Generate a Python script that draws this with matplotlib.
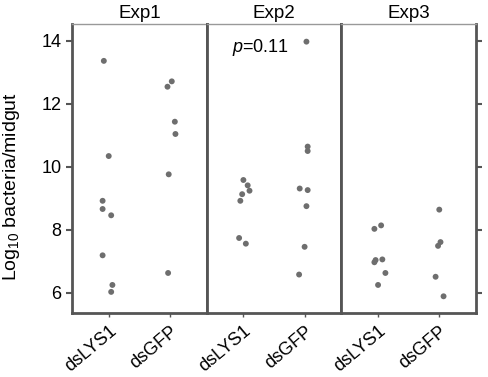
import matplotlib
matplotlib.use("Agg")
import matplotlib.pyplot as plt
from matplotlib.transforms import ScaledTranslation

plt.rcParams['font.family'] = ['Liberation Sans', 'DejaVu Sans']
plt.rcParams['mathtext.fontset'] = 'custom'
plt.rcParams['mathtext.rm'] = 'Liberation Sans'
plt.rcParams['mathtext.it'] = 'Liberation Sans:italic'

experiments = ["Exp1", "Exp2", "Exp3"]
groups = ["dsLYS1", "dsGFP"]

exp1_dsLYS1 = [13.36, 10.34, 8.92, 8.66, 8.46, 7.19, 6.25, 6.03]
exp1_dsGFP = [12.71, 12.54, 11.43, 11.04, 9.76, 6.63]
exp2_dsLYS1 = [9.58, 9.41, 9.24, 9.13, 8.92, 7.74, 7.56]
exp2_dsGFP = [13.97, 10.64, 10.50, 9.31, 9.26, 8.75, 7.46, 6.58]
exp3_dsLYS1 = [8.14, 8.03, 7.06, 7.04, 6.97, 6.63, 6.25]
exp3_dsGFP = [8.64, 7.61, 7.49, 6.51, 5.89]

# horizontal jitter offsets (category units)
jit1_dsLYS1 = [-0.08, 0.0, -0.1, -0.1, 0.04, -0.1, 0.06, 0.04]
jit1_dsGFP = [0.03, -0.04, 0.08, 0.09, -0.02, -0.03]
jit2_dsLYS1 = [0.0, 0.07, 0.1, -0.02, -0.05, -0.07, 0.04]
jit2_dsGFP = [0.03, 0.05, 0.05, -0.08, 0.05, 0.03, 0.0, -0.09]
jit3_dsLYS1 = [0.05, -0.06, 0.07, -0.04, -0.06, 0.12, 0.0]
jit3_dsGFP = [0.0, 0.02, -0.02, -0.06, 0.07]

data = [
    [(exp1_dsLYS1, jit1_dsLYS1), (exp1_dsGFP, jit1_dsGFP)],
    [(exp2_dsLYS1, jit2_dsLYS1), (exp2_dsGFP, jit2_dsGFP)],
    [(exp3_dsLYS1, jit3_dsLYS1), (exp3_dsGFP, jit3_dsGFP)],
]

yticks = [6, 8, 10, 12, 14]
p_text = r"$\it{p}$=0.11"

fig = plt.figure(figsize=(4.89, 3.77), dpi=100)
left, right = 72 / 489, 476 / 489
bottom, top = 1 - 313 / 377, 1 - 24 / 377
w = (right - left) / 3
spine_col = "#555555"
axes = []
for i, exp in enumerate(experiments):
    ax = fig.add_axes([left + i * w, bottom, w, top - bottom])
    axes.append(ax)
    for j, (vals, jit) in enumerate(data[i]):
        xs = [j + d for d in jit]
        ax.scatter(xs, vals, s=18, color="#6e6e6e", edgecolors="none", zorder=3)
    ax.set_xlim(-0.6, 1.6)
    ax.set_ylim(5.36, 14.53)
    ax.set_xticks(range(len(groups)))
    ax.set_xticklabels(groups, rotation=40, ha="right", va="top",
                       rotation_mode="anchor", fontsize=13)
    off = ScaledTranslation(9 / 100, -2 / 100, fig.dpi_scale_trans)
    for lab in ax.get_xticklabels():
        lab.set_transform(lab.get_transform() + off)
    ax.tick_params(axis="x", length=3, width=1, color=spine_col, pad=4)
    ax.set_yticks(yticks)
    for s in ["left", "right", "bottom"]:
        ax.spines[s].set_color(spine_col)
        ax.spines[s].set_linewidth(2)
    ax.spines["top"].set_color("#999999")
    ax.spines["top"].set_linewidth(1)
    ax.set_title(exp, fontsize=13.5, pad=4)
    if i == 0:
        ax.tick_params(axis="y", labelsize=13, length=4, width=1.5,
                       color=spine_col, left=True, right=False)
        ax.set_ylabel(r"Log$_{\mathregular{10}}$ bacteria/midgut", fontsize=14)
        ax.yaxis.set_label_coords(-0.37, 0.436)
    elif i == 2:
        ax.tick_params(axis="y", left=False, right=True, labelleft=False,
                       length=4, width=1.5, color=spine_col)
    else:
        ax.tick_params(axis="y", left=False, right=False, labelleft=False)

axes[1].text(0.28, 13.77, p_text, fontsize=13, ha="center", va="center")

fig.savefig("out.png", dpi=100)
